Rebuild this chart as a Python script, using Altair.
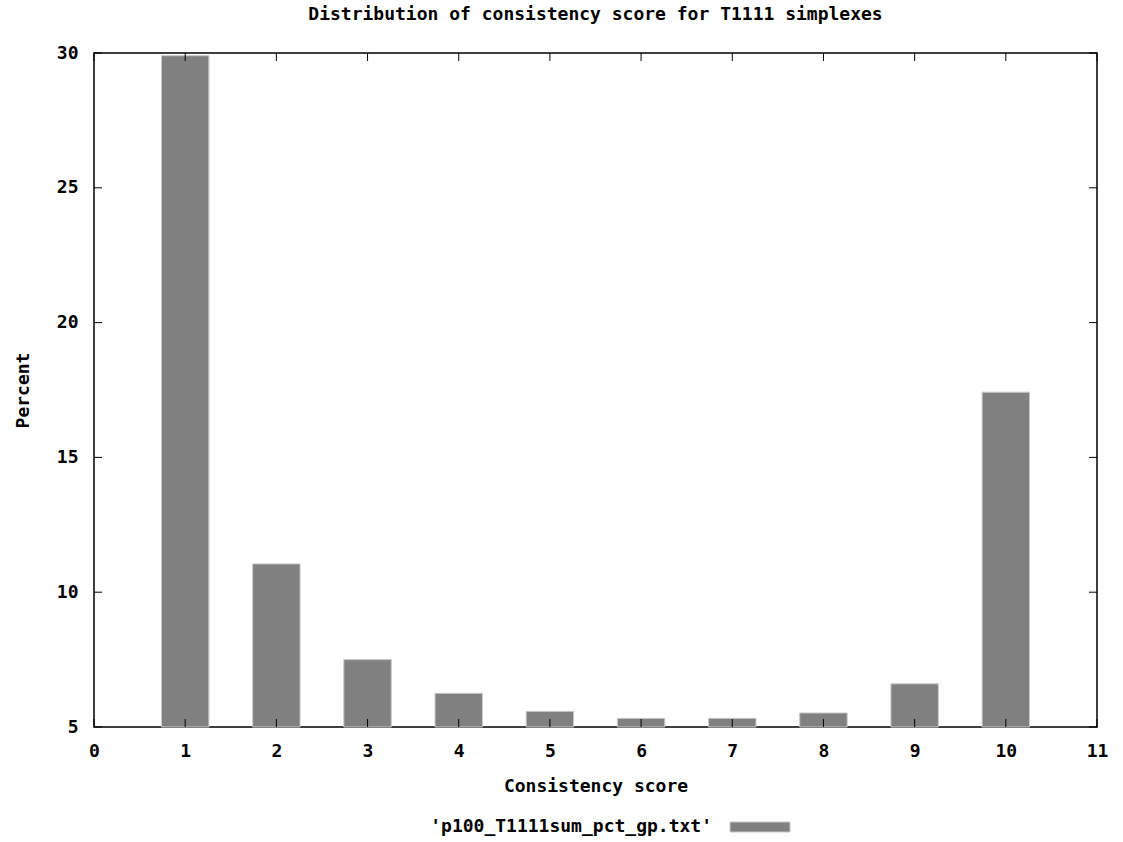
import altair as alt
import pandas as pd

scores = [1, 2, 3, 4, 5, 6, 7, 8, 9, 10]
percents = [29.9, 11.05, 7.5, 6.25, 5.58, 5.32, 5.32, 5.52, 6.6, 17.42]
x_ticks = list(range(0, 12))
y_ticks = [5, 10, 15, 20, 25, 30]

FONT = "DejaVu Sans Mono"
FS = 18
W, H = 1003, 674

df = pd.DataFrame({"score": scores, "pct": percents})
xt = pd.DataFrame({"v": x_ticks})
yt = pd.DataFrame({"v": y_ticks})

xs = alt.Scale(domain=[0, 11], nice=False, zero=False)
ys = alt.Scale(domain=[5, 30], nice=False, zero=False)

bars = alt.Chart(df).transform_calculate(
    x0="datum.score - 0.26", x1="datum.score + 0.26", base="5"
).mark_rect(fill="#808080", stroke="#c8c8c8", strokeWidth=1).encode(
    x=alt.X("x0:Q", scale=xs, title="Consistency score",
            axis=alt.Axis(values=x_ticks, format="d", tickSize=0, labelPadding=15,
                          labelFlush=False, titlePadding=17, domain=False, grid=False)),
    x2="x1:Q",
    y=alt.Y("pct:Q", scale=ys, title="Percent",
            axis=alt.Axis(values=y_ticks, format="d", tickSize=0, labelPadding=16,
                          titlePadding=24, domain=False, grid=False)),
    y2="base:Q",
)

xtick_bot = alt.Chart(xt).mark_rule(color="black").encode(
    x=alt.X("v:Q", scale=xs), y=alt.value(H), y2=alt.value(H - 8))
xtick_top = alt.Chart(xt).mark_rule(color="black").encode(
    x=alt.X("v:Q", scale=xs), y=alt.value(0), y2=alt.value(8))
ytick_l = alt.Chart(yt).mark_rule(color="black").encode(
    y=alt.Y("v:Q", scale=ys), x=alt.value(0), x2=alt.value(8))
ytick_r = alt.Chart(yt).mark_rule(color="black").encode(
    y=alt.Y("v:Q", scale=ys), x=alt.value(W), x2=alt.value(W - 8))

leg_df = pd.DataFrame({"label": ["'p100_T1111sum_pct_gp.txt'"]})
leg_text = alt.Chart(leg_df).mark_text(
    align="right", baseline="middle", font=FONT, fontWeight="bold", fontSize=FS, color="black"
).encode(text="label:N", x=alt.value(712 - 94), y=alt.value(827 - 53))
leg_rect = alt.Chart(leg_df).mark_rect(fill="#808080", stroke="#c8c8c8", strokeWidth=1).encode(
    x=alt.value(730 - 94), x2=alt.value(790 - 94), y=alt.value(822 - 53), y2=alt.value(832 - 53))

chart = alt.layer(bars, xtick_bot, xtick_top, ytick_l, ytick_r, leg_text, leg_rect).properties(
    width=W, height=H,
    background="white",
    title=alt.TitleParams("Distribution of consistency score for T1111 simplexes",
                          font=FONT, fontSize=FS, fontWeight="bold", color="black",
                          anchor="middle", offset=20),
    autosize=alt.AutoSizeParams(type="none"),
    padding={"left": 94, "top": 53, "right": 26, "bottom": 115},
).configure_view(stroke="black", strokeWidth=1.5).configure_axis(
    labelFont=FONT, labelFontSize=FS, labelFontWeight="bold", labelColor="black",
    titleFont=FONT, titleFontSize=FS, titleFontWeight="bold", titleColor="black",
)

chart.save("out.html", embed_options={"renderer": "svg", "actions": False})
